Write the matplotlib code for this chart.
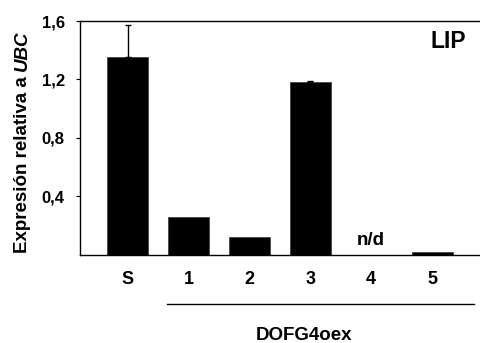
import matplotlib
matplotlib.use("Agg")
import matplotlib.pyplot as plt
import numpy as np

categories = ["S", "1", "2", "3", "4", "5"]
values = [1.35, 0.26, 0.12, 1.18, 0.0, 0.02]
errors = [0.22, 0.0, 0.0, 0.01, 0.0, 0.0]
yticks = [0.4, 0.8, 1.2, 1.6]
ytick_labels = ["0,4", "0,8", "1,2", "1,6"]
ylabel_main = "Expresión relativa a"
ylabel_gene = "UBC"
nd_label = "n/d"
nd_index = 4
group_label = "DOFG4oex"
panel_label = "LIP"

plt.rcParams['font.family'] = ['Liberation Sans', 'DejaVu Sans']

fig = plt.figure(figsize=(4.81, 3.43), dpi=100)
ax = fig.add_axes([80/481, 1 - 254.5/343, 1 - 80/481, (254.5 - 21)/343])

x = np.arange(len(categories))
vals = np.array(values)
errs = np.array(errors)
ax.bar(x, vals, width=0.675, color='black', edgecolor='#444444', linewidth=0.6)
has_err = errs > 0
ax.errorbar(x[has_err], vals[has_err], yerr=[np.zeros(has_err.sum()), errs[has_err]],
            fmt='none', ecolor='black', elinewidth=1, capsize=2.5, capthick=1)

ax.set_ylim(0, 1.6)
ax.set_xlim(-0.787, 5.805)
ax.set_yticks(yticks)
ax.set_yticklabels(ytick_labels, fontsize=12, fontweight='bold')
ax.tick_params(axis='y', length=3, width=0.8, direction='out', pad=8)
ax.set_xticks(x)
ax.set_xticklabels(categories, fontsize=13, fontweight='bold')
ax.tick_params(axis='x', length=0, pad=12)
ax.spines['right'].set_visible(False)
for s in ['left', 'top', 'bottom']:
    ax.spines[s].set_linewidth(1.0)

# y label in two parts: regular bold + bold italic gene name
bx, by = 27/481, 1 - 253/343
t1 = fig.text(bx, by, ylabel_main, rotation=90, rotation_mode='anchor',
              ha='left', va='baseline', fontsize=13.5, fontweight='bold')
fig.canvas.draw()
bb = t1.get_window_extent()
gap = 5
y2 = (bb.y1 + gap) / fig.bbox.height
fig.text(bx, y2, ylabel_gene, rotation=90, rotation_mode='anchor',
         ha='left', va='baseline', fontsize=13.5, fontweight='bold', fontstyle='italic')

ax.text(nd_index, 0.04, nd_label, ha='center', va='bottom', fontsize=13.5, fontweight='bold')
ax.text(0.963, 0.863, panel_label, transform=ax.transAxes, ha='right', va='bottom',
        fontsize=16.5, fontweight='bold')

# group line and label below axis (figure coordinates)
fig.add_artist(plt.Line2D([167/481, 474/481], [1 - 304/343, 1 - 304/343],
                          color='black', linewidth=1.0))
fig.text(304/481, 1 - 335/343, group_label, ha='center', va='center',
         fontsize=13.5, fontweight='bold')

fig.savefig("out.png", dpi=100)
